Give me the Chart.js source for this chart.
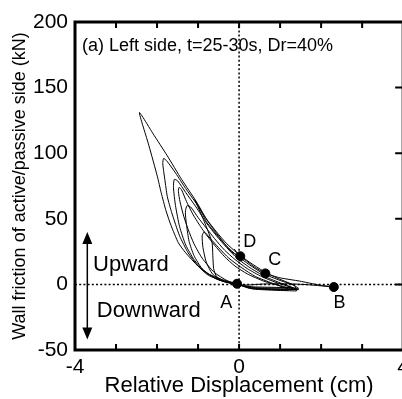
<!DOCTYPE html>
<html>
<head>
<meta charset="utf-8">
<script src="https://cdn.jsdelivr.net/npm/chart.js@4"></script>
<style>
  html, body { margin: 0; padding: 0; background: #fff; }
  #wrap { width: 402px; height: 399px; overflow: hidden; }
</style>
</head>
<body>
<div id="wrap"><canvas id="frictionChart" width="414" height="399"></canvas></div>
<script>
// wall friction vs relative displacement, left side, t = 25-30 s
// each cycle: return along the bottom to A, loading branch up-left, unloading branch back down-right
const cycleOuter = [[1.2,-4.5],[0.7,-3.8],[0.25,-3],[-0.05,0.5],[-0.43,3.8],[-0.75,8],[-1.0,13.9],[-1.3,24],[-1.48,31.7],[-1.66,45],[-1.78,56],[-1.9,70],[-1.99,82],[-2.2,106],[-2.43,131],[-2.1,115],[-1.75,98],[-1.4,80],[-1.04,63],[-0.8,50],[-0.55,39],[-0.3,29],[-0.15,24],[0.03,21.5],[0.34,14],[0.64,8.4],[1.0,5],[1.48,2.5],[1.96,-0.5],[2.31,-2]];
const cycleSecond = [[2.31,-2],[1.7,-0.3],[1.15,0.5],[0.6,0.3],[0.2,-0.5],[-0.05,0],[-0.35,2],[-0.75,7],[-1.0,14],[-1.24,24],[-1.45,37],[-1.64,54.5],[-1.75,67],[-1.81,80],[-1.86,92],[-1.84,96],[-1.76,94],[-1.55,85],[-1.3,73],[-1.05,62],[-0.8,50],[-0.55,40],[-0.3,31],[-0.05,24],[0.25,17],[0.6,10],[0.95,4.5],[1.3,0],[1.45,-3]];
const cycleThird = [[1.45,-3],[0.9,-2.8],[0.4,-2.5],[-0.05,0],[-0.3,3],[-0.6,9],[-0.9,20],[-1.1,31],[-1.24,41.8],[-1.35,52],[-1.44,63],[-1.48,71],[-1.46,74],[-1.4,72],[-1.28,63],[-1.1,52],[-0.85,40],[-0.6,30],[-0.35,21],[-0.1,14],[0.2,8],[0.6,2.5],[1.0,-1],[1.4,-4]];
const cycleFourth = [[1.4,-4],[0.8,-3.5],[0.3,-2.5],[-0.05,0],[-0.35,2.5],[-0.55,6],[-0.62,12],[-0.64,22],[-0.66,32],[-0.85,48],[-1.08,64.6],[-0.98,59],[-0.78,47],[-0.55,38],[-0.3,29],[-0.05,22],[0.25,15],[0.6,8],[1.0,3],[1.35,-1],[1.4,-5]];
const cycleFifth = [[1.4,-5],[0.9,-4.5],[0.35,-3.5],[-0.05,0],[-0.55,4],[-0.9,12],[-1.1,22],[-1.22,33],[-1.28,45],[-1.31,55],[-1.27,60],[-1.18,59],[-1.0,51],[-0.8,43],[-0.6,35],[-0.35,26],[-0.1,19],[0.2,12],[0.55,6],[0.9,1.5],[1.3,-2.5]];
const cycleSixth = [[1.3,-2.5],[0.8,-2.2],[0.3,-1.8],[-0.05,0],[-0.45,3],[-0.85,10],[-1.1,19],[-1.3,30],[-1.45,44],[-1.55,60],[-1.6,74],[-1.58,80],[-1.5,79],[-1.3,70],[-1.05,59],[-0.8,47],[-0.55,37],[-0.3,28],[-0.05,20],[0.3,12],[0.7,5],[1.1,0],[1.45,-4]];
const cycleSeventh = [[1.45,-4],[0.9,-3.6],[0.35,-3],[-0.05,0],[-0.4,2.5],[-0.65,8],[-0.8,17],[-0.88,28],[-0.9,37],[-0.85,40],[-0.7,35],[-0.5,28],[-0.25,20],[0.05,13],[0.4,6],[0.8,1],[1.2,-3.5]];
const cycleTail = [[-0.12,27],[-0.03,23.5],[0.03,21.5]];
const cycles = [cycleOuter, cycleSecond, cycleThird, cycleFourth, cycleFifth, cycleSixth, cycleSeventh, cycleTail];

// marked instants
const markNames = ["A", "B", "C", "D"];
const markX = [-0.05, 2.31, 0.64, 0.03];
const markY = [0.5, -2, 8.4, 21.5];

const xTickLabels = [-4, 0, 4];
const FONT = "'Liberation Sans', Arial, Helvetica, sans-serif";

const datasets = cycles.map(c => ({
  data: c.map(p => ({ x: p[0], y: p[1] })),
  showLine: true,
  borderColor: "#000",
  borderWidth: 1,
  pointRadius: 0,
  tension: 0.2
}));
datasets.push({
  data: markX.map((x, i) => ({ x: x, y: markY[i] })),
  showLine: false,
  pointRadius: 4.5,
  pointBackgroundColor: "#000",
  pointBorderColor: "#000"
});

// frame, inner ticks, zero lines and annotations
const decorations = {
  id: "decorations",
  beforeDatasetsDraw(chart) {
    const { ctx, chartArea: a, scales: { x, y } } = chart;
    ctx.save();
    ctx.strokeStyle = "#000";
    ctx.lineWidth = 1.5;
    ctx.setLineDash([2, 2.2]);
    ctx.beginPath();
    ctx.moveTo(x.getPixelForValue(0), a.top);
    ctx.lineTo(x.getPixelForValue(0), a.bottom);
    ctx.moveTo(a.left, y.getPixelForValue(0));
    ctx.lineTo(a.right, y.getPixelForValue(0));
    ctx.stroke();
    ctx.restore();
  },
  afterDraw(chart) {
    const { ctx, chartArea: a, scales: { x, y } } = chart;
    ctx.save();
    ctx.strokeStyle = "#000";
    ctx.lineWidth = 3;
    ctx.strokeRect(a.left, a.top, a.right - a.left, a.bottom - a.top);

    ctx.lineWidth = 2;
    ctx.beginPath();
    for (let v = -3; v <= 3; v++) {
      const px = x.getPixelForValue(v);
      ctx.moveTo(px, a.bottom);
      ctx.lineTo(px, a.bottom - 6);
      ctx.moveTo(px, a.top);
      ctx.lineTo(px, a.top + 6);
    }
    for (let v = 0; v <= 150; v += 50) {
      const py = y.getPixelForValue(v);
      ctx.moveTo(a.right, py);
      ctx.lineTo(a.right - 8, py);
    }
    ctx.stroke();

    // up/down arrow
    const ax = x.getPixelForValue(-3.7);
    const aTop = y.getPixelForValue(40);
    const aBot = y.getPixelForValue(-42);
    ctx.lineWidth = 1.5;
    ctx.beginPath();
    ctx.moveTo(ax, aTop + 10);
    ctx.lineTo(ax, aBot - 10);
    ctx.stroke();
    ctx.fillStyle = "#000";
    ctx.beginPath();
    ctx.moveTo(ax, aTop);
    ctx.lineTo(ax - 5, aTop + 12);
    ctx.lineTo(ax + 5, aTop + 12);
    ctx.closePath();
    ctx.moveTo(ax, aBot);
    ctx.lineTo(ax - 5, aBot - 12);
    ctx.lineTo(ax + 5, aBot - 12);
    ctx.closePath();
    ctx.fill();

    ctx.textBaseline = "middle";
    ctx.textAlign = "left";
    ctx.font = "18px " + FONT;
    ctx.fillText("(a) Left side, t=25-30s, Dr=40%", x.getPixelForValue(-3.83), y.getPixelForValue(182));
    ctx.font = "22px " + FONT;
    ctx.fillText("Upward", x.getPixelForValue(-3.56), y.getPixelForValue(15));
    ctx.fillText("Downward", x.getPixelForValue(-3.47), y.getPixelForValue(-20));

    ctx.textAlign = "center";
    ctx.font = "18px " + FONT;
    const labelOffsets = { A: [-0.26, -15], B: [0.14, -12.5], C: [0.23, 10], D: [0.23, 11] };
    markNames.forEach((n, i) => {
      const o = labelOffsets[n];
      ctx.fillText(n, x.getPixelForValue(markX[i] + o[0]), y.getPixelForValue(markY[i] + o[1]));
    });
    ctx.restore();
  }
};

new Chart(document.getElementById("frictionChart"), {
  type: "scatter",
  data: { datasets: datasets },
  options: {
    responsive: false,
    animation: false,
    devicePixelRatio: 1,
    layout: { padding: { left: 9, top: 22, right: 10, bottom: 0 } },
    plugins: { legend: { display: false }, tooltip: { enabled: false } },
    scales: {
      x: {
        type: "linear",
        min: -4,
        max: 4,
        grid: { display: false, drawTicks: false },
        border: { display: false },
        ticks: {
          stepSize: 1,
          padding: 5,
          color: "#000",
          font: { family: FONT, size: 21 },
          maxRotation: 0,
          autoSkip: false,
          callback: v => (xTickLabels.includes(v) ? String(v) : "")
        },
        title: {
          display: true,
          text: "Relative Displacement (cm)",
          color: "#000",
          font: { family: FONT, size: 22 },
          padding: 0
        },
        afterFit: s => { s.height = 49; }
      },
      y: {
        type: "linear",
        min: -50,
        max: 200,
        grid: { display: false, drawTicks: false },
        border: { display: false },
        ticks: {
          stepSize: 50,
          padding: 7,
          color: "#000",
          font: { family: FONT, size: 21 }
        },
        title: {
          display: true,
          text: "Wall friction of active/passive side (kN)",
          color: "#000",
          font: { family: FONT, size: 18 },
          padding: 0
        },
        afterFit: s => { s.width = 66; }
      }
    }
  },
  plugins: [decorations]
});
</script>
</body>
</html>
